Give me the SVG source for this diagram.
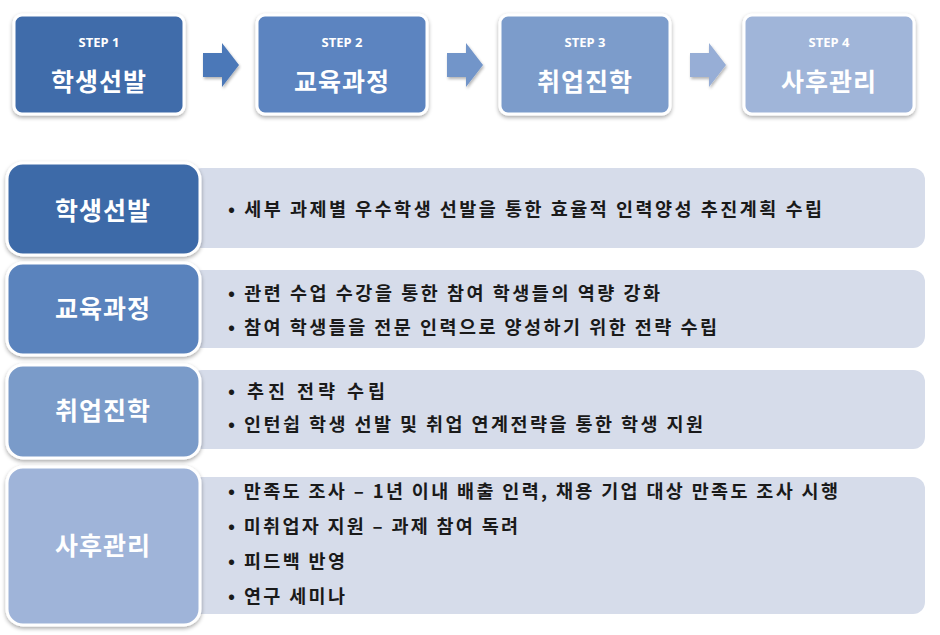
<svg xmlns="http://www.w3.org/2000/svg" width="940" height="635" viewBox="0 0 940 635">
  <defs>
    <filter id="sh" x="-10%" y="-10%" width="120%" height="125%">
      <feGaussianBlur in="SourceAlpha" stdDeviation="2"/>
      <feOffset dx="0" dy="1.5" result="b"/>
      <feComponentTransfer><feFuncA type="linear" slope="0.35"/></feComponentTransfer>
      <feMerge><feMergeNode/><feMergeNode in="SourceGraphic"/></feMerge>
    </filter>
    <filter id="sha" x="-20%" y="-20%" width="140%" height="140%">
      <feGaussianBlur in="SourceAlpha" stdDeviation="1.5"/>
      <feOffset dx="1" dy="1.5"/>
      <feComponentTransfer><feFuncA type="linear" slope="0.3"/></feComponentTransfer>
      <feMerge><feMergeNode/><feMergeNode in="SourceGraphic"/></feMerge>
    </filter>
  </defs>
  <style>
    .step { stroke: #ffffff; stroke-width: 3; filter: url(#sh); }
    .lbox { stroke: #ffffff; stroke-width: 3; filter: url(#sh); }
    .panel { fill: #d6dcea; }
    .steplbl { font-family: "Noto Sans", "Noto Sans CJK KR", sans-serif; font-weight: bold; font-size: 13px; fill: #ffffff; text-anchor: middle; }
    .title { font-family: "Noto Sans CJK KR", "Noto Sans", sans-serif; font-weight: bold; font-size: 25px; fill: #ffffff; text-anchor: middle; letter-spacing: 1px; }
    .item { font-family: "Noto Sans CJK KR", "Noto Sans", sans-serif; font-weight: bold; font-size: 18.5px; fill: #1a1a1a; }
    .arrow { filter: url(#sha); }
  </style>
  <rect width="940" height="635" fill="#ffffff"/>

  <g id="step1">
    <rect class="step" x="14" y="15" width="170" height="99" rx="8" fill="#406caa"/>
    <text class="steplbl" x="99" y="47">STEP 1</text>
    <text class="title" x="99" y="91">학생선발</text>
  </g>
  <g id="step2">
    <rect class="step" x="257" y="15" width="170" height="99" rx="8" fill="#5b84c0"/>
    <text class="steplbl" x="342" y="47">STEP 2</text>
    <text class="title" x="342" y="91">교육과정</text>
  </g>
  <g id="step3">
    <rect class="step" x="500" y="15" width="170" height="99" rx="8" fill="#7b9ccb"/>
    <text class="steplbl" x="585" y="47">STEP 3</text>
    <text class="title" x="585" y="91">취업진학</text>
  </g>
  <g id="step4">
    <rect class="step" x="744" y="15" width="170" height="99" rx="8" fill="#a0b5d9"/>
    <text class="steplbl" x="829" y="47">STEP 4</text>
    <text class="title" x="829" y="91">사후관리</text>
  </g>

  <g id="connectors">
    <polygon class="arrow" points="203,53 222,53 222,43 239,65 222,87 222,77 203,77" fill="#4b78b8"/>
    <polygon class="arrow" points="447,53 466,53 466,43 483,65 466,87 466,77 447,77" fill="#7295c9"/>
    <polygon class="arrow" points="690,53 709,53 709,43 726,65 709,87 709,77 690,77" fill="#97aed6"/>
  </g>

  <g id="row1">
    <rect class="panel" x="190" y="168" width="735" height="80" rx="12"/>
    <rect class="lbox" x="7" y="163" width="193" height="92" rx="16" fill="#3e6aa8"/>
    <text class="title" x="103" y="220">학생선발</text>
    <text class="item" x="228" y="216" textLength="594" lengthAdjust="spacing">• 세부 과제별 우수학생 선발을 통한 효율적 인력양성 추진계획 수립</text>
  </g>
  <g id="row2">
    <rect class="panel" x="190" y="270" width="735" height="78" rx="12"/>
    <rect class="lbox" x="7" y="263" width="193" height="92" rx="16" fill="#5a83bd"/>
    <text class="title" x="103" y="318">교육과정</text>
    <text class="item" x="228" y="300" textLength="432" lengthAdjust="spacing">• 관련 수업 수강을 통한 참여 학생들의 역량 강화</text>
    <text class="item" x="228" y="334" textLength="489" lengthAdjust="spacing">• 참여 학생들을 전문 인력으로 양성하기 위한 전략 수립</text>
  </g>
  <g id="row3">
    <rect class="panel" x="190" y="370" width="735" height="79" rx="12"/>
    <rect class="lbox" x="7" y="365" width="193" height="93" rx="16" fill="#7a9bc9"/>
    <text class="title" x="103" y="420">취업진학</text>
    <text class="item" x="228" y="398" textLength="157" lengthAdjust="spacing">• 추진 전략 수립</text>
    <text class="item" x="228" y="431" textLength="475" lengthAdjust="spacing">• 인턴쉽 학생 선발 및 취업 연계전략을 통한 학생 지원</text>
  </g>
  <g id="row4">
    <rect class="panel" x="190" y="477" width="735" height="137" rx="12"/>
    <rect class="lbox" x="7" y="467" width="193" height="158" rx="16" fill="#9fb4d9"/>
    <text class="title" x="103" y="555">사후관리</text>
    <text class="item" x="228" y="498" textLength="610" lengthAdjust="spacing">• 만족도 조사 – 1년 이내 배출 인력, 채용 기업 대상 만족도 조사 시행</text>
    <text class="item" x="228" y="533" textLength="290" lengthAdjust="spacing">• 미취업자 지원 – 과제 참여 독려</text>
    <text class="item" x="228" y="568" textLength="117" lengthAdjust="spacing">• 피드백 반영</text>
    <text class="item" x="228" y="603" textLength="117" lengthAdjust="spacing">• 연구 세미나</text>
  </g>
</svg>
